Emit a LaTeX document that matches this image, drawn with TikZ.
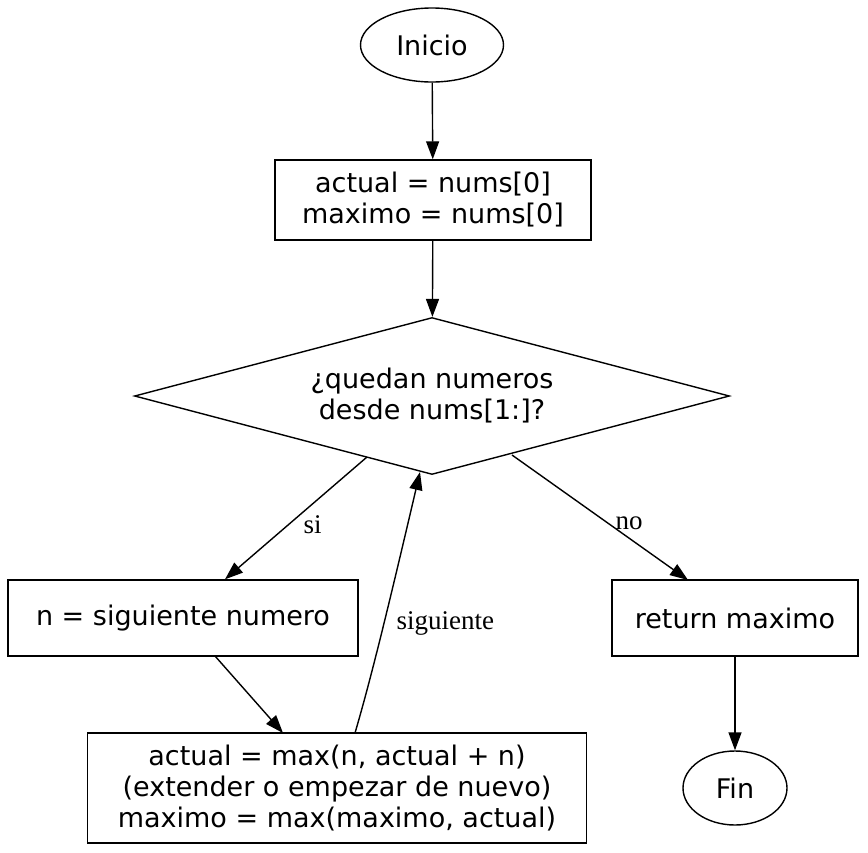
\documentclass[tikz,border=0pt]{standalone}
\usepackage{fontspec}
\setmainfont{DejaVu Sans}
\newfontfamily\labelfont{Liberation Serif}
\usetikzlibrary{shapes.geometric,arrows.meta}
\tikzset{
  every node/.style={font=\fontsize{27}{31}\selectfont, align=center, inner sep=0pt},
  terminal/.style={draw, ellipse},
  procbox/.style={draw, rectangle},
  decision/.style={draw, diamond, aspect=3.8},
  flow/.style={-{Triangle[length=18pt,width=13pt]}},
  edgelabel/.style={font=\labelfont\fontsize{27}{31}\selectfont}
}
\begin{document}
\begin{tikzpicture}[x=1pt,y=-1pt,line width=1.4pt]
  \useasboundingbox (0,0) rectangle (868,852);
  \node[terminal, minimum width=143, minimum height=74] (inicio) at (432,45) {Inicio};
  \node[procbox, minimum width=316, minimum height=80] (init) at (433,200) {actual = nums[0]\\maximo = nums[0]};
  \node[decision, minimum width=595, minimum height=157] (cond) at (432,396) {¿quedan numeros\\desde nums[1:]?};
  \node[procbox, minimum width=350, minimum height=76] (sig) at (183,618) {n = siguiente numero};
  \node[procbox, minimum width=499, minimum height=110] (upd) at (337,788) {actual = max(n, actual + n)\\(extender o empezar de nuevo)\\maximo = max(maximo, actual)};
  \node[procbox, minimum width=246, minimum height=76] (ret) at (735,618) {return maximo};
  \node[terminal, minimum width=104, minimum height=74] (fin) at (735,788) {Fin};
  \draw[flow] (inicio) -- (init);
  \draw[flow] (init) -- (cond);
  \draw[flow] (367,457) -- (sig.north -| 225,0) node[edgelabel, pos=0.55, right=14pt] {si};
  \draw[flow] (512,455) -- (688,580) node[edgelabel, pos=0.55, right=6pt] {no};
  \draw[flow] (215,656) -- (283,733);
  \draw[flow] (355,733) .. controls (372,675) and (390,600) .. (420,472)
    node[edgelabel, pos=0.52, right=12pt] {siguiente};
  \draw[flow] (ret) -- (fin);
\end{tikzpicture}
\end{document}
